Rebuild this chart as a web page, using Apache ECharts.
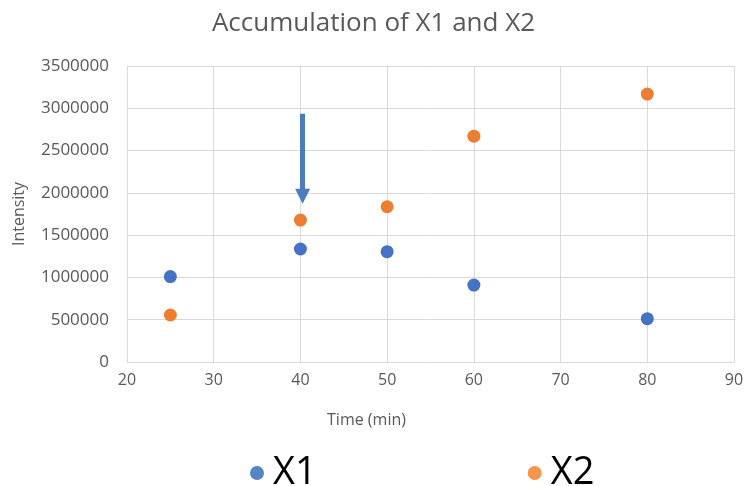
<!DOCTYPE html>
<html>
<head>
<meta charset="utf-8">
<script src="https://cdn.jsdelivr.net/npm/echarts@6/dist/echarts.min.js"></script>
<style>
  html, body { margin: 0; padding: 0; background: #fff; }
  #chart { width: 747px; height: 486px; }
</style>
</head>
<body>
<div id="chart"></div>
<script>
// Sampling times (min)
const times = [25, 40, 50, 60, 80];
// Measured intensities
const x1Values = [1010000, 1336000, 1304000, 910000, 512000];
const x2Values = [556000, 1678000, 1836000, 2670000, 3168000];
// Arrow annotation marking the 40 min sample
const arrowX = 40.25;
const arrowFrom = 2935000;
const arrowTo = 1960000;

const font = '"Open Sans", "Noto Sans", sans-serif';
const gray = '#595959';

const chart = echarts.init(document.getElementById('chart'));
chart.setOption({
  animation: false,
  backgroundColor: '#fff',
  title: {
    text: 'Accumulation of X1 and X2',
    left: 'center',
    top: 6,
    textStyle: { fontFamily: font, fontSize: 26, fontWeight: 'normal', color: gray }
  },
  legend: {
    data: [
      { name: 'X1', itemStyle: { color: '#5585c5' } },
      { name: 'X2', itemStyle: { color: '#f7964a' } }
    ],
    left: 245,
    top: 449,
    icon: 'circle',
    itemWidth: 14,
    itemHeight: 14,
    itemGap: 211,
    textStyle: { fontFamily: font, fontSize: 38, color: '#000', padding: [0, 0, 0, 4] }
  },
  grid: { left: 127, right: 13, top: 66, bottom: 124 },
  xAxis: {
    type: 'value',
    min: 20,
    max: 90,
    interval: 10,
    name: 'Time (min)',
    nameLocation: 'middle',
    nameGap: 50,
    nameTextStyle: { fontFamily: font, fontSize: 16, color: gray, padding: [0, 128, 0, 0] },
    axisLine: { show: true, lineStyle: { color: '#d9d9d9' } },
    axisTick: { show: false },
    axisLabel: { fontFamily: font, fontSize: 16, color: gray, margin: 10 },
    splitLine: { show: true, lineStyle: { color: '#d9d9d9', width: 1 } }
  },
  yAxis: {
    type: 'value',
    min: 0,
    max: 3500000,
    interval: 500000,
    name: 'Intensity',
    nameLocation: 'middle',
    nameGap: 100,
    nameTextStyle: { fontFamily: font, fontSize: 16, color: gray },
    axisLine: { show: true, lineStyle: { color: '#d9d9d9' } },
    axisTick: { show: false },
    axisLabel: { fontFamily: font, fontSize: 17, color: gray, margin: 18, formatter: v => String(v) },
    splitLine: { show: true, lineStyle: { color: '#d9d9d9', width: 1 } }
  },
  series: [
    {
      name: 'X1',
      type: 'scatter',
      symbolSize: 13,
      itemStyle: { color: '#4472c4', opacity: 1 },
      data: times.map((t, i) => [t, x1Values[i]]),
      markLine: {
        silent: true,
        symbol: ['none', 'triangle'],
        symbolSize: [15, 15],
        label: { show: false },
        lineStyle: { color: '#4a7ebb', width: 5, type: 'solid' },
        data: [[{ coord: [arrowX, arrowFrom] }, { coord: [arrowX, arrowTo] }]]
      },
      z: 3
    },
    {
      name: 'X2',
      type: 'scatter',
      symbolSize: 13,
      itemStyle: { color: '#ed7d31', opacity: 1 },
      data: times.map((t, i) => [t, x2Values[i]]),
      z: 3
    }
  ]
});
</script>
</body>
</html>
